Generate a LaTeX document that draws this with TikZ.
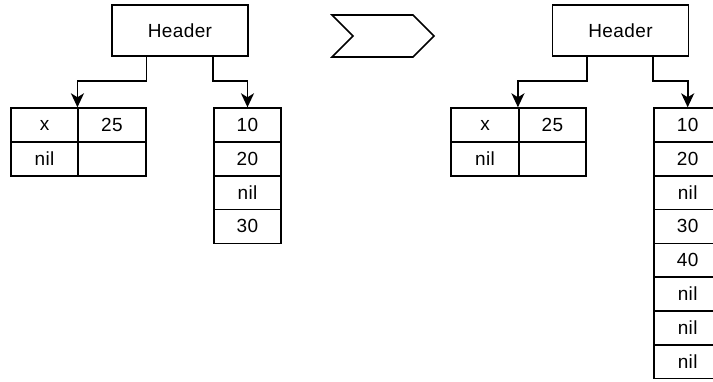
\documentclass[tikz,border=0pt]{standalone}
\usepackage{fontspec}
\setmainfont{Liberation Sans}[LetterSpace=2]
\usetikzlibrary{arrows.meta}
\begin{document}
\begin{tikzpicture}[x=1pt,y=-1pt,
  every node/.style={font=\fontsize{19}{22}\selectfont},
  cell/.style={draw,line width=1.6pt,minimum width=67.5pt,minimum height=33.8pt,inner sep=0pt,anchor=center},
  hdr/.style={draw,line width=1.6pt,minimum width=136pt,minimum height=51pt,inner sep=0pt},
  arr/.style={line width=1.6pt,-{Stealth[length=14pt,width=13pt,inset=4pt]}},
  chev/.style={draw,line width=1.6pt,line join=miter}]
\useasboundingbox (0,0) rectangle (713,381);
% left part
\node[hdr] (h1) at (180,30.5) {Header};
\node[cell] (a1) at (44.5,125) {x};
\node[cell] (a2) at (112,125) {25};
\node[cell] (a3) at (44.5,158.8) {nil};
\node[cell] (a4) at (112,158.8) {};
\node[cell] (b1) at (247.5,125) {10};
\node[cell] (b2) at (247.5,158.8) {20};
\node[cell] (b3) at (247.5,192.6) {nil};
\node[cell] (b4) at (247.5,226.4) {30};
\draw[arr] (h1.south -| a2.east) -- (a2.east |- 0,81) -- (a2.north west |- 0,81) -- (a2.north west);
\draw[arr] (h1.south -| b1.west) -- (b1.west |- 0,81) -- (b1.north |- 0,81) -- (b1.north);
% chevron
\draw[chev] (332,15) -- (413,15) -- (434,36) -- (413,57) -- (332,57) -- (353,36) -- cycle;
% right part
\node[hdr] (h2) at (620.5,30.5) {Header};
\node[cell] (c1) at (485,125) {x};
\node[cell] (c2) at (552.5,125) {25};
\node[cell] (c3) at (485,158.8) {nil};
\node[cell] (c4) at (552.5,158.8) {};
\node[cell] (d1) at (687.7,125) {10};
\node[cell] (d2) at (687.7,158.8) {20};
\node[cell] (d3) at (687.7,192.6) {nil};
\node[cell] (d4) at (687.7,226.4) {30};
\node[cell] (d5) at (687.7,260.2) {40};
\node[cell] (d6) at (687.7,294) {nil};
\node[cell] (d7) at (687.7,327.8) {nil};
\node[cell] (d8) at (687.7,361.6) {nil};
\draw[arr] (h2.south -| c2.east) -- (c2.east |- 0,81) -- (c2.north west |- 0,81) -- (c2.north west);
\draw[arr] (h2.south -| d1.west) -- (d1.west |- 0,81) -- (d1.north |- 0,81) -- (d1.north);
\end{tikzpicture}
\end{document}
